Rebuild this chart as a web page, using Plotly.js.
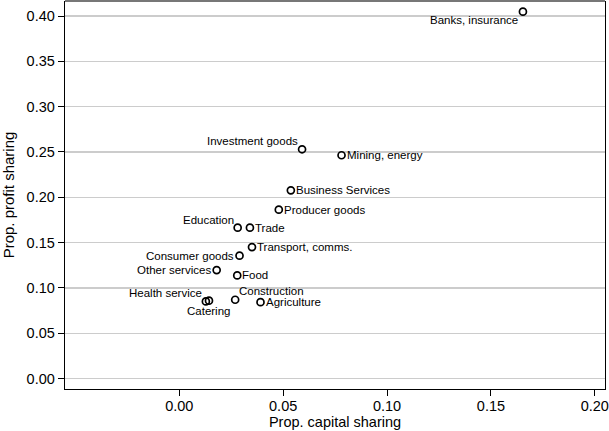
<!DOCTYPE html>
<html>
<head>
<meta charset="utf-8">
<script src="https://cdn.plot.ly/plotly-3.0.1.min.js"></script>
<style>html,body{margin:0;padding:0;background:#fff;}#chart{width:609px;height:431px;}</style>
</head>
<body>
<div id="chart"></div>
<script>
const sectors = ["Banks, insurance","Investment goods","Mining, energy","Business Services","Producer goods","Education","Trade","Transport, comms.","Consumer goods","Other services","Food","Health service","Catering","Construction","Agriculture"];
const capitalSharing = [0.1654,0.0591,0.0781,0.0537,0.0479,0.0281,0.0340,0.0350,0.0290,0.0180,0.0279,0.0128,0.0143,0.0269,0.0391];
const profitSharing = [0.4048,0.2530,0.2464,0.2077,0.1864,0.1665,0.1665,0.1451,0.1356,0.1197,0.1138,0.0851,0.0860,0.0870,0.0843];
const labelPositions = ["bottom left","top left","middle right","middle right","middle right","top left","middle right","middle right","middle left","middle left","middle right","top left","bottom center","top right","middle right"];
const xTicks = [0.00,0.05,0.10,0.15,0.20];
const yTicks = [0.00,0.05,0.10,0.15,0.20,0.25,0.30,0.35,0.40];

const font = "Liberation Sans, Arial, Helvetica, sans-serif";
const trace = {
  x: capitalSharing, y: profitSharing,
  mode: "markers", type: "scatter",
  marker: {symbol: "circle-open", size: 7, color: "#000", line: {width: 1.7, color: "#000"}},
  cliponaxis: false, hoverinfo: "none"
};
const placement = {
  "bottom left":   {xanchor: "right",  yanchor: "top",    xshift: -4, yshift: -1},
  "top left":      {xanchor: "right",  yanchor: "bottom", xshift: -3, yshift: 1},
  "top right":     {xanchor: "left",   yanchor: "bottom", xshift: 3,  yshift: 2},
  "middle right":  {xanchor: "left",   yanchor: "middle", xshift: 4,  yshift: 0},
  "middle left":   {xanchor: "right",  yanchor: "middle", xshift: -5, yshift: 0},
  "bottom center": {xanchor: "center", yanchor: "top",    xshift: 0,  yshift: -3}
};
const annotations = sectors.map((s, i) => Object.assign({
  x: capitalSharing[i], y: profitSharing[i], xref: "x", yref: "y",
  text: s, showarrow: false, borderpad: 0,
  font: {family: font, size: 11.5, color: "#000"}
}, placement[labelPositions[i]]));

const layout = {
  width: 609, height: 431,
  margin: {l: 65, r: 4, t: 1, b: 42},
  paper_bgcolor: "#fff", plot_bgcolor: "#fff",
  showlegend: false,
  font: {family: font, color: "#000"},
  xaxis: {
    range: [-0.055, 0.2049], tickvals: xTicks, ticktext: xTicks.map(v => v.toFixed(2)),
    showgrid: false, zeroline: false, showline: true, linecolor: "#000", linewidth: 1.3,
    ticks: "outside", ticklen: 6, tickwidth: 1, tickcolor: "#000", ticklabelstandoff: -3,
    tickfont: {size: 14.5, family: font},
    title: {text: "Prop. capital sharing", font: {size: 14.5, family: font}, standoff: 0}
  },
  yaxis: {
    range: [-0.0115, 0.4166], tickvals: yTicks, ticktext: yTicks.map(v => v.toFixed(2)),
    showgrid: true, gridcolor: "#cccccc", gridwidth: 1.5, zeroline: false,
    showline: true, mirror: true, linecolor: "#000", linewidth: 1.3,
    ticks: "outside", ticklen: 6, tickwidth: 1, tickcolor: "#000",
    tickfont: {size: 14.5, family: font},
    title: {text: "Prop. profit sharing", font: {size: 15, family: font}, standoff: 12}
  },
  annotations: annotations,
  shapes: [{type: "line", xref: "paper", yref: "paper", x0: 0, x1: 1, y0: 1, y1: 1, line: {color: "#777", width: 2}}]
};
Plotly.newPlot("chart", [trace], layout, {displayModeBar: false, staticPlot: true});
</script>
</body>
</html>
